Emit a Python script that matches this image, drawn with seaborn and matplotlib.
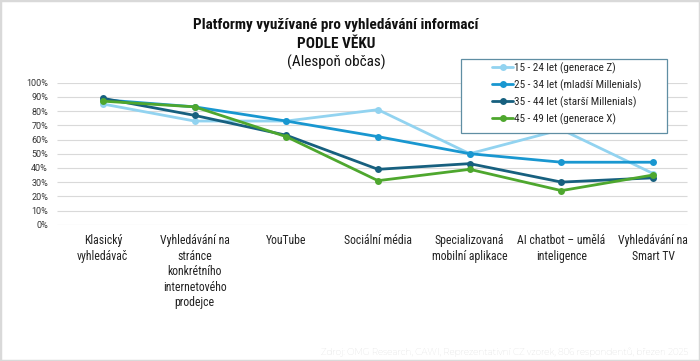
import pandas as pd
import matplotlib
matplotlib.use("Agg")
import matplotlib.pyplot as plt
from matplotlib import font_manager as fm
from matplotlib.patches import Rectangle
from matplotlib.ticker import PercentFormatter
import seaborn as sns

# data
platformy = ["Klasický vyhledávač", "Vyhledávání na stránce konkrétního internetového prodejce",
             "YouTube", "Sociální média", "Specializovaná mobilní aplikace",
             "AI chatbot – umělá inteligence", "Vyhledávání na Smart TV"]
popisky = ["Klasický\nvyhledávač", "Vyhledávání na\nstránce\nkonkrétního\ninternetového\nprodejce",
           "YouTube", "Sociální média", "Specializovaná\nmobilní aplikace",
           "AI chatbot – umělá\ninteligence", "Vyhledávání na\nSmart TV"]
skupiny = ["15 - 24 let (generace Z)", "25 - 34 let (mladší Millenials)",
           "35 - 44 let (starší Millenials)", "45 - 49 let (generace X)"]
gen_z = [85, 73, 73, 81, 50, 67, 36]
mladsi_mill = [88, 83, 73, 62, 50, 44, 44]
starsi_mill = [89, 77, 63, 39, 43, 30, 33]
gen_x = [87, 83, 62, 31, 39, 24, 35]
barvy = ["#92d3f0", "#1997d0", "#17607f", "#4ea72e"]

rows = []
for skup, vals in zip(skupiny, [gen_z, mladsi_mill, starsi_mill, gen_x]):
    for p, v in zip(platformy, vals):
        rows.append({"platforma": p, "podil": v / 100, "skupina": skup})
df = pd.DataFrame(rows)
df["x"] = df["platforma"].map({p: i for i, p in enumerate(platformy)})

installed = {f.name for f in fm.fontManager.ttflist}


def pick(*names):
    for n in names:
        if n in installed:
            return [n, "DejaVu Sans"]
    return ["DejaVu Sans"]


narrow = pick("Roboto Condensed", "Archivo Narrow", "Asap Condensed", "Liberation Sans Narrow")
plain = pick("Roboto", "Liberation Sans")
zdroj_font = pick("Montserrat", "Open Sans")

sns.set_style("white")
plt.rcParams["font.family"] = narrow

fig = plt.figure(figsize=(7, 3.61), dpi=100)
ax = fig.add_axes([57 / 700, 136.3 / 361, 642 / 700, 142 / 361])

sns.lineplot(data=df, x="x", y="podil", hue="skupina", palette=barvy, hue_order=skupiny,
             marker="o", markersize=5, markeredgewidth=0, linewidth=2, sort=False, ax=ax)

ax.set_xlim(-0.5, 6.5)
ax.set_ylim(0, 1)
yt = [i / 10 for i in range(11)]
ax.hlines(yt, -0.5, 6.37, colors="#d9d9d9", linewidth=0.8, zorder=0)
ax.set_yticks(yt)
ax.yaxis.set_major_formatter(PercentFormatter(1.0, decimals=0))
ax.set_xticks(range(len(platformy)))
ax.set_xticklabels(popisky, fontsize=8.5, color="#222222", linespacing=1.25, va="top")
for lab in ax.get_yticklabels():
    lab.set_family(plain)
    lab.set_fontsize(6.5)
    lab.set_color("#333333")
ax.tick_params(axis="x", length=0, pad=7)
ax.tick_params(axis="y", length=0, pad=6.5)
ax.set_xlabel("")
ax.set_ylabel("")
for s in ax.spines.values():
    s.set_visible(False)

handles, labels = ax.get_legend_handles_labels()
ax.get_legend().remove()

fig.patches.append(Rectangle((461 / 700, 1 - 133 / 361), 206 / 700, 74 / 361,
                             transform=fig.transFigure, facecolor="white",
                             edgecolor="#5f8ea3", linewidth=0.9, zorder=3))
fig.legend(handles, labels, loc="upper left", bbox_to_anchor=(492 / 700, 1 - 62 / 361),
           frameon=False, fontsize=8, borderpad=0, borderaxespad=0, handlelength=1.9,
           handletextpad=0.1, labelspacing=0.5)

fig.text(336 / 700, 1 - 25 / 361, "Platformy využívané pro vyhledávání informací",
         ha="center", va="center", fontsize=11, fontweight="bold", color="#111111")
fig.text(336 / 700, 1 - 44 / 361, "PODLE VĚKU", ha="center", va="center",
         fontsize=11, fontweight="bold", color="#111111")
fig.text(336 / 700, 1 - 62.5 / 361, "(Alespoň občas)", ha="center", va="center",
         fontsize=11, color="#111111")
fig.text(688 / 700, 1 - 352 / 361,
         "Zdroj: OMG Research, CAWI, Reprezentativní CZ vzorek, 806 respondentů, březen 2025",
         ha="right", va="center", fontsize=6.3, color="#d0d0d0", family=zdroj_font)

fig.patches.append(Rectangle((0, 0), 1, 1, transform=fig.transFigure, fill=False,
                             edgecolor="#d9d9d9", linewidth=2.5, zorder=10))

fig.savefig("out.png", dpi=100)
